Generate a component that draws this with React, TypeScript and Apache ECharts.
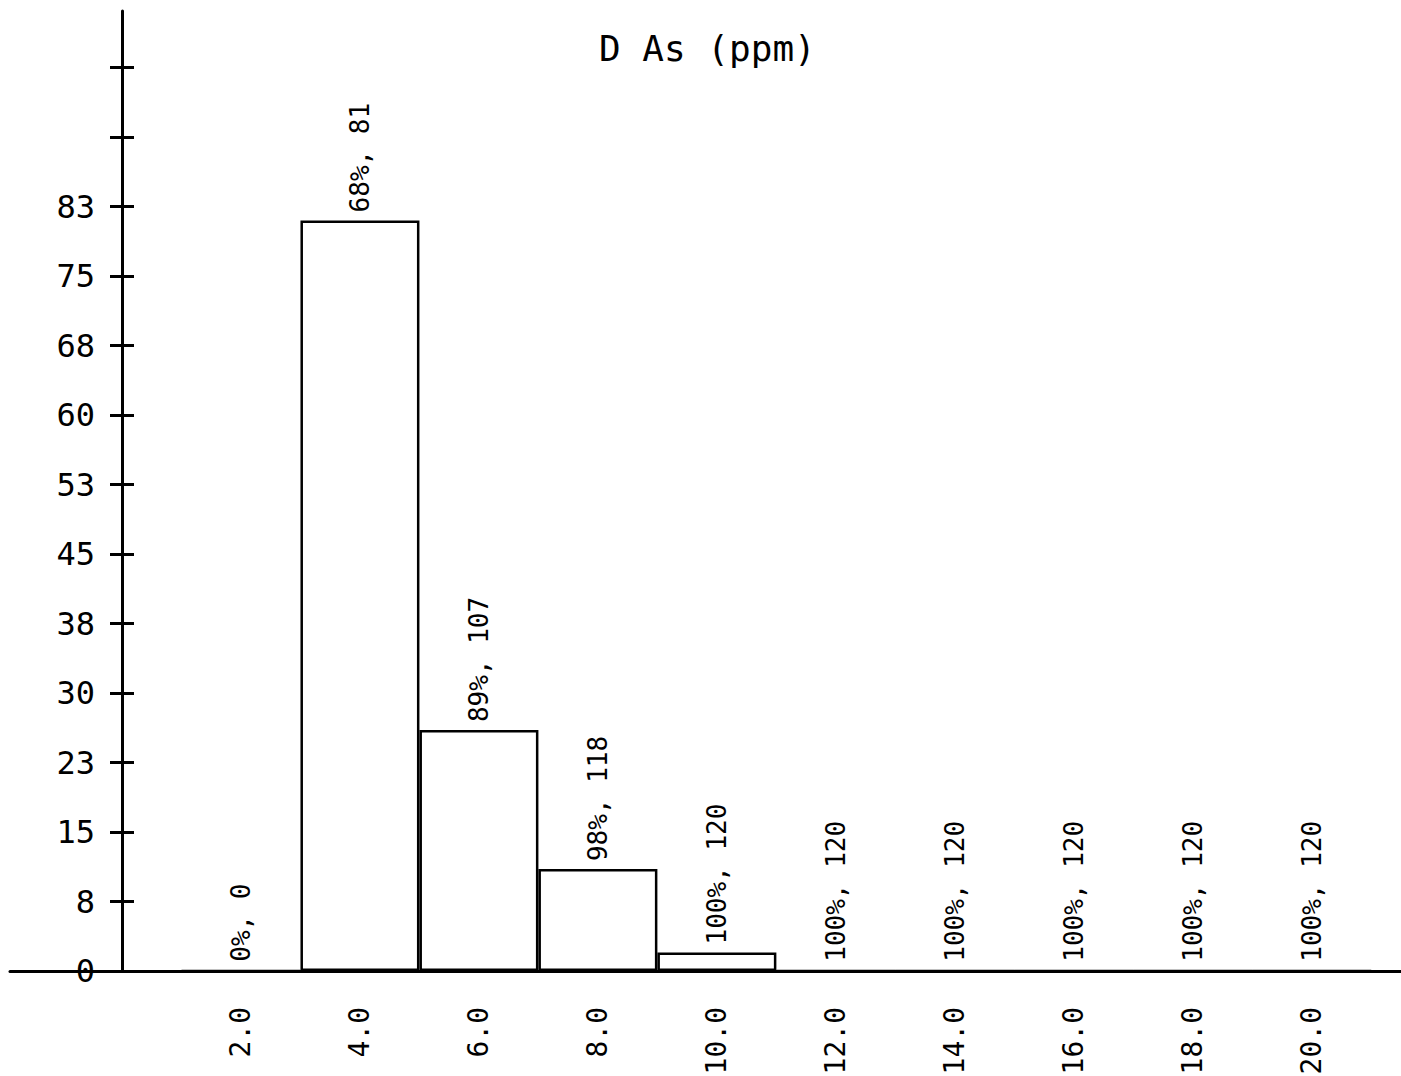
import React, { useEffect, useRef } from "react";
import * as echarts from "echarts";

const categories = [2, 4, 6, 8, 10, 12, 14, 16, 18, 20];
const counts = [0, 81, 26, 11, 2, 0, 0, 0, 0, 0];
const percents = [0, 68, 89, 98, 100, 100, 100, 100, 100, 100];
const cumulative = [0, 81, 107, 118, 120, 120, 120, 120, 120, 120];
const yTickValues = [0, 7.5, 15, 22.5, 30, 37.5, 45, 52.5, 60, 67.5, 75, 82.5, 90, 97.5];
const yLabelValues = [0, 7.5, 15, 22.5, 30, 37.5, 45, 52.5, 60, 67.5, 75, 82.5];
const yTickLabels = ["0", "8", "15", "23", "30", "38", "45", "53", "60", "68", "75", "83"];
const titleText = "D As (ppm)";

const FONT = "DejaVu Sans Mono";
const X_MAX = 21.5;
const Y_MAX = 103.6;
const BIN = 2;

export default function App() {
  const ref = useRef<HTMLDivElement>(null);
  useEffect(() => {
    document.body.style.margin = "0";
    const chart = echarts.init(ref.current!, null, { renderer: "svg" });
    const plotLeft = 122;
    const barWidth = ((1401 - plotLeft) / X_MAX) * BIN;
    const labelMap: Record<string, string> = {};
    yLabelValues.forEach((v, i) => (labelMap[String(v)] = yTickLabels[i]));
    const common = { top: 11, bottom: 1076 - 971, right: 0, containLabel: false, outerBoundsMode: "none" };
    chart.setOption({
      animation: false,
      backgroundColor: "#ffffff",
      title: {
        text: titleText,
        left: 594,
        top: 25,
        textStyle: { fontFamily: FONT, fontSize: 36, fontWeight: "normal", color: "#000" },
      },
      grid: [
        { ...common, left: plotLeft },
        { ...common, left: 10 },
      ],
      xAxis: [
        {
          type: "value",
          gridIndex: 0,
          min: 0,
          max: X_MAX,
          splitLine: { show: false },
          axisTick: { show: false },
          axisLine: { show: false },
          axisLabel: {
            customValues: categories,
            rotate: 90,
            margin: 36,
            fontFamily: FONT,
            fontSize: 28,
            color: "#000",
            formatter: (v: number) => v.toFixed(1),
          },
        },
        {
          type: "value",
          gridIndex: 1,
          min: 0,
          max: 1,
          splitLine: { show: false },
          axisTick: { show: false },
          axisLabel: { show: false },
          axisLine: { show: true, lineStyle: { color: "#000", width: 3 } },
        },
      ],
      yAxis: [
        {
          type: "value",
          gridIndex: 0,
          min: 0,
          max: Y_MAX,
          position: "left",
          splitLine: { show: false },
          axisLine: { show: true, onZero: false, lineStyle: { color: "#000", width: 3 } },
          axisTick: {
            show: true,
            customValues: yTickValues,
            length: 12,
            lineStyle: { color: "#000", width: 3 },
          },
          axisLabel: {
            customValues: yLabelValues,
            margin: 27,
            fontFamily: FONT,
            fontSize: 32,
            color: "#000",
            formatter: (v: number) => labelMap[String(v)] ?? "",
          },
        },
        {
          type: "value",
          gridIndex: 0,
          min: 0,
          max: Y_MAX,
          position: "left",
          offset: 0,
          splitLine: { show: false },
          axisLine: { show: false, onZero: false },
          axisTick: {
            show: true,
            inside: true,
            customValues: yTickValues,
            length: 12,
            lineStyle: { color: "#000", width: 3 },
          },
          axisLabel: { show: false },
        },
        {
          type: "value",
          gridIndex: 1,
          min: 0,
          max: 1,
          show: false,
        },
      ],
      series: [
        {
          type: "bar",
          xAxisIndex: 0,
          yAxisIndex: 0,
          barWidth: barWidth,
          data: categories.map((c, i) => [c, counts[i]]),
          itemStyle: { color: "#ffffff", borderColor: "#000", borderWidth: 2.5 },
          label: {
            show: true,
            position: "top",
            rotate: 90,
            align: "left",
            verticalAlign: "middle",
            distance: 8,
            fontFamily: FONT,
            fontSize: 26,
            color: "#000",
            formatter: (p: any) => `${percents[p.dataIndex]}%, ${cumulative[p.dataIndex]}`,
          },
        },
      ],
    });
    return () => chart.dispose();
  }, []);
  return <div ref={ref} style={{ width: 1401, height: 1076 }} />;
}
